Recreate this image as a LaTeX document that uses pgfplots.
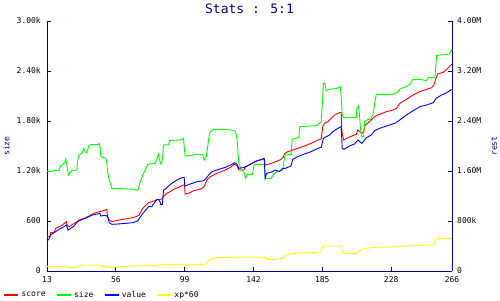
\documentclass[border=0pt]{standalone}
\usepackage{fontspec}
\setmainfont{DejaVu Sans Mono}
\usepackage{pgfplots}
\pgfplotsset{compat=1.18}
\definecolor{navy}{RGB}{0,0,128}
\definecolor{cred}{RGB}{255,0,0}
\definecolor{cgreen}{RGB}{0,255,0}
\definecolor{cblue}{RGB}{0,0,255}
\definecolor{cyellow}{RGB}{255,255,0}
\begin{document}
\begin{tikzpicture}
\path[use as bounding box] (0,0) rectangle (500pt,300pt);
\begin{axis}[
  at={(47pt,29pt)}, anchor=south west,
  scale only axis, width=405pt, height=250pt,
  xmin=13, xmax=266, ymin=0, ymax=3000,
  axis x line*=bottom, axis y line*=left,
  axis line style={navy, line width=0.8pt, -},
  tick style={navy, line width=0.8pt},
  major tick length=4pt, tick align=inside,
  /pgf/number format/assume math mode=true,
  xtick={13,56,99,142,185,228,266},
  xticklabels={13,56,99,142,185,228,266},
  ytick={0,600,1200,1800,2400,3000},
  yticklabels={0,600,1.20k,1.80k,2.40k,3.00k},
  tick label style={font=\fontsize{8}{9}\selectfont, text=black},
  yticklabel style={inner sep=0pt, anchor=east, xshift=-6pt},
  xticklabel style={inner sep=0pt, anchor=north, yshift=-5pt},
  ylabel={size},
  ylabel style={at={(axis description cs:-0.1,0.5)}, anchor=center, font=\fontsize{8}{9}\selectfont, text=navy},
  title={Stats : 5:1},
  every axis title shift=0pt,
  title style={at={(axis description cs:0.5,1.031)}, anchor=base, inner sep=0pt, font=\fontsize{13}{15}\selectfont, text=navy},
  legend columns=4,
  legend style={draw=none, fill=none, at={(axis description cs:-0.109,-0.096)}, anchor=west,
    font=\fontsize{8}{9}\selectfont, inner sep=0pt, /tikz/every even column/.append style={column sep=8pt}},
  legend image code/.code={\draw[#1, line width=2.5pt] (0pt,0pt) -- (14pt,0pt);},
  every axis plot/.append style={line width=0.9pt, mark=none},
]
\addplot[cred] coordinates {
(13,412)(14.7,412)(15.3,460)(17.4,460)(18.4,512)(20.5,532)(22.6,552)(25.1,592)(25.7,540)(26.8,532)
(28.4,552)(29.9,572)(32.0,592)(33.1,612)(36.2,632)(39.3,660)(41.4,684)(43.5,700)(45.6,712)(47.7,720)
(50.4,740)(50.8,652)(51.9,612)(53.5,592)(56.0,604)(60.2,620)(64.4,632)(68.6,652)(70.7,672)(71.7,712)
(72.8,752)(73.8,772)(76.5,820)(78.4,832)(81.6,852)(84.7,864)(85.8,892)(87.8,932)(89.9,952)(92.0,980)
(95.2,1004)(98.3,1032)(98.9,1032)(99.3,924)(101.4,932)(104.6,964)(109.8,988)(111.3,1020)(112.9,1092)
(115.0,1132)(119.2,1172)(123.4,1204)(127.6,1244)(130.1,1284)(131.8,1260)(132.8,1212)(136.0,1212)
(137.0,1252)(141.2,1292)(143.5,1320)(146.6,1332)(148.7,1344)(149.3,1272)(151.8,1284)(156.0,1312)
(159.2,1340)(160.6,1364)(161.3,1404)(163.3,1432)(165.4,1444)(169.6,1472)(173.8,1500)(178.0,1532)
(182.2,1572)(184.3,1584)(185.3,1740)(186.4,1772)(188.4,1792)(190.5,1832)(192.6,1872)(195.8,1900)
(196.8,1904)(197.2,1672)(198.3,1572)(201,1600)(205.1,1632)(206.2,1640)(207.2,1692)(208.3,1672)
(209.7,1652)(210.8,1672)(211.8,1752)(214.5,1792)(217.7,1852)(219.8,1872)(225,1912)(229.2,1932)
(231.3,1952)(233.4,2012)(237.5,2060)(241.7,2112)(245.9,2152)(250.1,2180)(253.2,2200)(254.7,2232)
(256,2312)(257,2364)(260.5,2384)(262.6,2420)(266,2484)
};
\addlegendentry{score}
\addplot[cgreen] coordinates {
(13,1196)(16.3,1196)(17.4,1208)(20.5,1208)(21.5,1260)(22.6,1280)(24.1,1300)(24.7,1344)(25.3,1292)
(26.4,1152)(27.2,1180)(28.4,1204)(31.6,1212)(32.2,1332)(33.0,1392)(35.1,1420)(36.0,1472)(36.8,1432)
(37.7,1420)(38.5,1460)(39.3,1508)(40.4,1516)(45.2,1516)(45.6,1532)(46.2,1484)(46.6,1380)(47.7,1364)
(49.8,1352)(50.4,1292)(51.0,1172)(51.9,1092)(52.9,1028)(53.5,992)(60.2,988)(67.6,980)(68.6,968)
(70.1,980)(70.7,1032)(71.7,1092)(72.8,1152)(73.8,1192)(75.9,1280)(80.5,1292)(81.6,1340)(82.6,1404)
(83.2,1340)(84.1,1284)(85.1,1340)(85.8,1512)(88.9,1516)(89.5,1564)(95.2,1572)(97.3,1580)(98.3,1592)
(98.9,1452)(99.3,1380)(104.6,1392)(106.7,1404)(110.4,1392)(111.3,1332)(112.5,1372)(113.4,1492)
(114.2,1612)(115.0,1672)(117.1,1700)(124.4,1700)(127.6,1692)(130.7,1680)(131.8,1572)(132.2,1452)
(132.8,1300)(133.9,1232)(136.4,1172)(137.0,1112)(138.0,1160)(141.4,1160)(142.4,1280)(148.7,1280)
(149.3,1112)(152.9,1112)(154.4,1152)(156.4,1192)(160.2,1212)(160.8,1292)(161.7,1392)(165.4,1400)
(166.2,1584)(170.3,1600)(170.9,1732)(181.1,1744)(183.2,1772)(184.3,1792)(184.9,1972)(185.7,2252)
(186.6,2252)(187.4,2164)(189.5,2180)(194.1,2192)(196.2,2212)(196.8,2092)(197.4,1872)(198.3,1844)
(206.2,1844)(206.6,1952)(207.6,1980)(208.3,1852)(208.9,1692)(209.7,1612)(210.8,1612)(211.4,1800)
(212.5,1800)(213.5,1820)(215,1820)(216.6,1872)(217.7,2012)(218.7,2120)(229.2,2120)(232.3,2152)
(233.4,2184)(237.5,2212)(239.6,2240)(241.7,2300)(245.9,2300)(250.1,2284)(251.1,2320)(255.3,2320)
(256.4,2588)(258.5,2592)(264.3,2604)(266,2660)
};
\addlegendentry{size}
\addplot[cblue] coordinates {
(13,364)(14.2,380)(15.3,432)(17.4,460)(20.5,500)(23.6,532)(25.1,552)(26.1,492)(27.8,512)(29.9,540)
(32.0,592)(35.1,620)(38.3,644)(41.4,672)(44.5,684)(46.0,692)(46.6,660)(48.7,668)(50.8,660)(51.9,580)
(53.5,560)(57.1,564)(62.3,572)(66.5,580)(69.6,600)(71.7,660)(73.8,712)(76.5,772)(78.4,772)(81.6,860)
(83.2,852)(84.1,800)(85.1,800)(85.8,972)(86.8,980)(88.9,1020)(91.0,1052)(94.1,1092)(97.3,1120)
(98.7,1124)(99.1,1020)(102.5,1044)(106.7,1072)(110.9,1084)(112.5,1112)(114.0,1152)(116.1,1192)
(120.3,1220)(124.4,1244)(128.6,1280)(130.3,1300)(131.8,1280)(132.8,1232)(136.4,1244)(138.0,1260)
(141.8,1300)(145.6,1332)(148.7,1352)(149.3,1112)(150.2,1172)(153.9,1192)(155.6,1212)(158.1,1192)
(160.2,1232)(161.9,1232)(165.4,1260)(166.5,1340)(169.6,1372)(173.8,1404)(178.0,1432)(182.2,1472)
(184.3,1484)(185.7,1592)(187.4,1612)(189.5,1632)(191.6,1672)(194.7,1712)(196.8,1732)(197.4,1472)
(198.5,1460)(202,1500)(205.1,1524)(207.2,1572)(208.3,1552)(209.7,1532)(211.4,1572)(212.5,1600)
(215.6,1632)(217.7,1684)(220.8,1712)(225,1740)(230.2,1772)(233.4,1812)(237.5,1872)(241.7,1924)
(245.9,1972)(250.1,1992)(254.3,2020)(256,2072)(259.5,2112)(262.6,2140)(266,2180)
};
\addlegendentry{value}
\addplot[cyellow] coordinates {
(13,56)(24.3,56)(25.4,44)(30.6,44)(35.8,72)(45.2,72)(46.3,56)(51.5,56)(52.6,44)(61.9,56)(81.6,68)
(84.7,80)(98.3,80)(100,68)(106.7,80)(111.9,80)(114,132)(116.1,148)(119.2,160)(138,168)(149.8,164)
(150.2,140)(156.0,140)(160.2,152)(161.9,188)(166.5,212)(180.1,224)(184.3,232)(185.3,292)(186.3,300)
(196.8,300)(197.9,212)(206.2,212)(208.3,244)(211.4,272)(218.8,284)(232.4,292)(241.8,304)(254.7,312)
(256.0,380)(257.4,392)(266,392)
};
\addlegendentry{xp*60}
\end{axis}
\begin{axis}[
  at={(47pt,29pt)}, anchor=south west,
  scale only axis, width=405pt, height=250pt,
  xmin=13, xmax=266, ymin=0, ymax=4000,
  axis y line*=right, axis x line=none,
  axis line style={navy, line width=0.8pt, -},
  tick style={navy, line width=0.8pt},
  major tick length=4pt, tick align=inside,
  /pgf/number format/assume math mode=true,
  ytick={0,800,1600,2400,3200,4000},
  yticklabels={0,800k,1.60M,2.40M,3.20M,4.00M},
  tick label style={font=\fontsize{8}{9}\selectfont, text=black},
  yticklabel style={inner sep=0pt, anchor=west, xshift=5pt},
  ylabel={rest},
  ylabel style={at={(axis description cs:1.104,0.5)}, anchor=center, font=\fontsize{8}{9}\selectfont, text=navy},
]
\end{axis}
\end{tikzpicture}
\end{document}
